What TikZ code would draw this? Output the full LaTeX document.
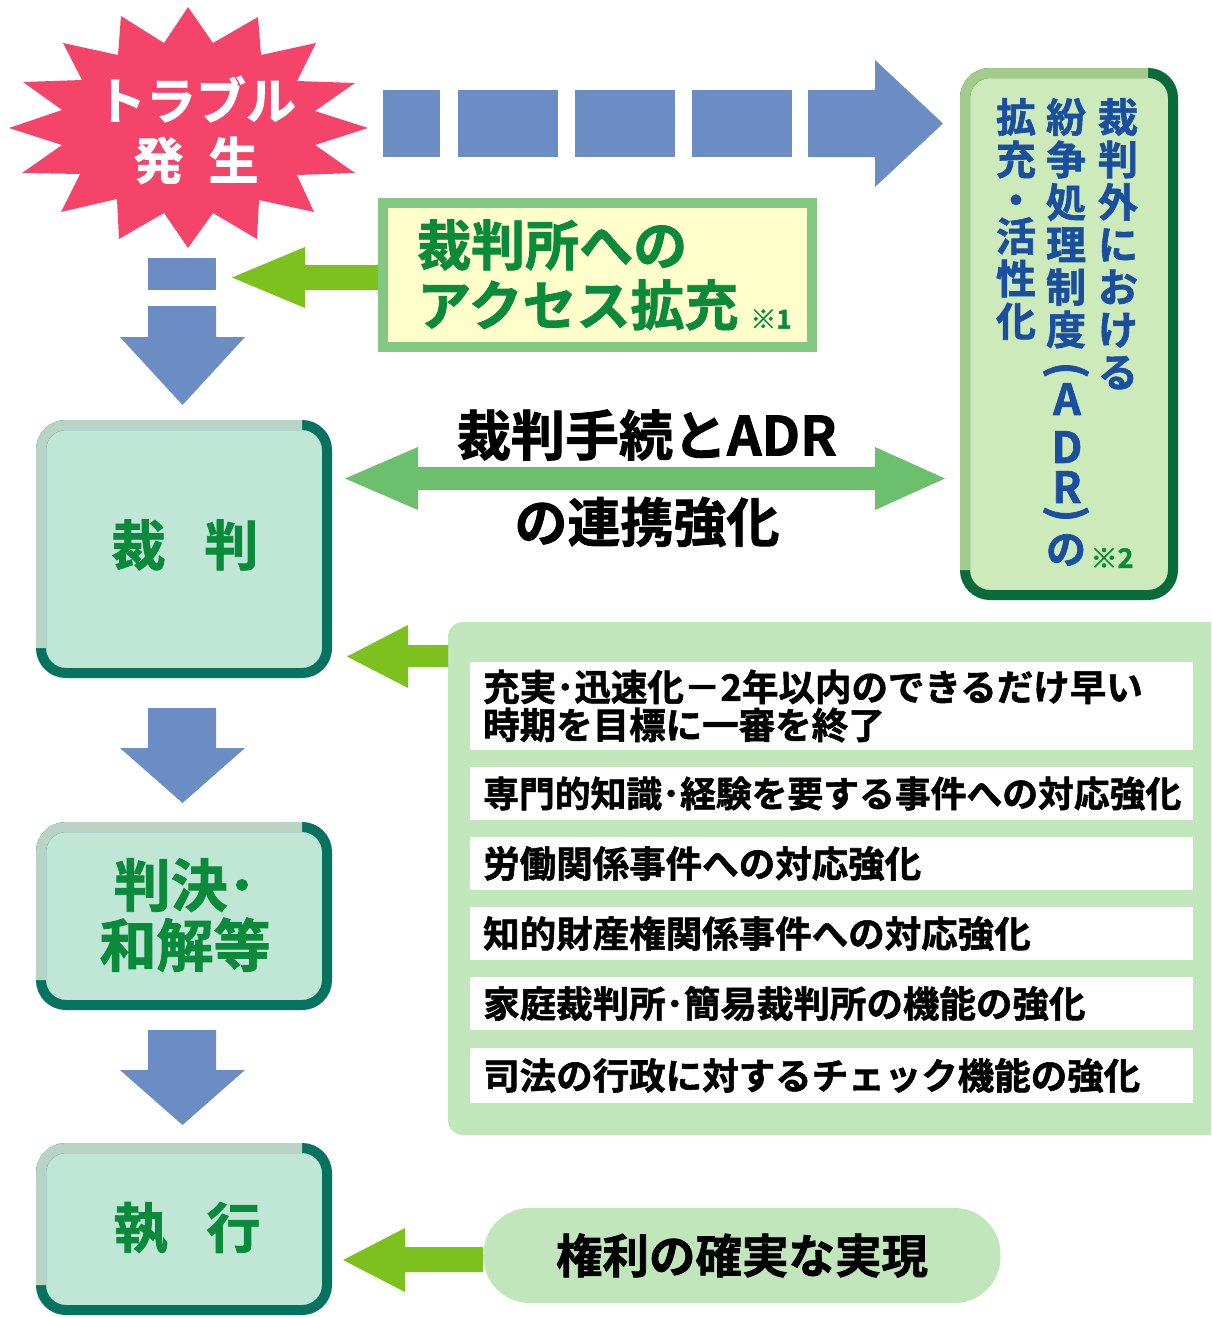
\documentclass[tikz,border=0pt]{standalone}
\usepackage{fontspec}
\setmainfont{Noto Sans CJK JP}[BoldFont={Noto Sans CJK JP Bold},BoldFeatures={FakeBold=1.5}]
\definecolor{cStar}{HTML}{F5446A}
\definecolor{cBlue}{HTML}{6B8DC3}
\definecolor{cYG}{HTML}{7DC11E}
\definecolor{cDG}{HTML}{6CBF6C}
\definecolor{cAdrFill}{HTML}{CDEABA}
\definecolor{cAdrLight}{HTML}{A3CC8C}
\definecolor{cAdrDark}{HTML}{0A6B3A}
\definecolor{cAdrText}{HTML}{1A4FA0}
\definecolor{cAccFill}{HTML}{FFFFCC}
\definecolor{cAccBorder}{HTML}{82C882}
\definecolor{cGreenText}{HTML}{0A8A3A}
\definecolor{cStageFill}{HTML}{C0E6D6}
\definecolor{cStageLight}{HTML}{B9D3C7}
\definecolor{cStageDark}{HTML}{077260}
\definecolor{cPanel}{HTML}{C1E6BB}
\newcommand\twotone[3]{%
  \draw[line width=10pt,#3,rounded corners=25pt]
    ([shift={(5pt,5pt)}]#1.south west) rectangle ([shift={(-5pt,-5pt)}]#1.north east);
  \draw[line width=10pt,#2,rounded corners=25pt]
    ([shift={(5pt,30pt)}]#1.south west) -- ([shift={(5pt,-5pt)}]#1.north west)
    -- ([shift={(-30pt,-5pt)}]#1.north east);
}
\tikzset{
  stagebox/.style={fill=cStageFill,rounded corners=30pt,inner sep=0pt,outer sep=0pt},
  stagetext/.style={text=cGreenText,align=center,inner sep=0pt,
    font=\bfseries\fontsize{54}{60}\selectfont},
  adrtext/.style={text=cAdrText,align=center,inner sep=0pt,
    font=\bfseries\fontsize{40}{42.5}\selectfont},
  rowbox/.style={fill=white,inner sep=0pt,outer sep=0pt,minimum width=723pt},
  rowtext/.style={anchor=west,inner sep=0pt,align=left,
    font=\bfseries\fontsize{36.5}{38}\selectfont},
  blockblue/.style={fill=cBlue},
  blockyg/.style={fill=cYG},
}
\begin{document}
\begin{tikzpicture}[x=1pt,y=-1pt]
\useasboundingbox (0,0) rectangle (1211,1317);
% starburst
\fill[cStar] (188,7) -- (213,43) -- (258,17) -- (261,55) -- (316,43) -- (297,81)
  -- (355,83) -- (315,111) -- (368,128) -- (315,145) -- (355,173) -- (297,175)
  -- (314,212) -- (259,200) -- (257,239) -- (213,213) -- (188,248) -- (164,213)
  -- (119,239) -- (117,199) -- (61,212) -- (80,174) -- (22,173) -- (62,145)
  -- (9,128) -- (62,110) -- (23,82) -- (82,80) -- (63,43) -- (118,55)
  -- (121,16) -- (164,43) -- cycle;
\node[text=white,align=center,inner sep=0pt,font=\bfseries\fontsize{50}{60}\selectfont]
  (trouble) at (196,130) {トラブル\\発\hspace{0.5em}生};
% blue dashed arrow to ADR
\fill[blockblue] (383,90) rectangle (440,157);
\fill[blockblue] (458,90) rectangle (558,157);
\fill[blockblue] (575,90) rectangle (675,157);
\fill[blockblue] (692,90) rectangle (792,157);
\fill[blockblue] (808,90) -- (875,90) -- (875,60) -- (943,123.5) -- (875,187)
  -- (875,157) -- (808,157) -- cycle;
% ADR box
\node[fill=cAdrFill,rounded corners=30pt,inner sep=0pt,outer sep=0pt,
  minimum width=218pt,minimum height=532pt] (adrbox) at (1069,334) {};
\twotone{adrbox}{cAdrLight}{cAdrDark}
\node[adrtext,anchor=north] (adr1) at (1118,98) {裁\\判\\外\\に\\お\\け\\る};
\node[adrtext,anchor=north] (adr2) at (1066,98) {紛\\争\\処\\理\\制\\度};
\node[adrtext,rotate=-90,font=\bfseries\fontsize{44}{44}\selectfont] (adrpl)
  at (1066,370) {(};
\node[adrtext,font=\bfseries\fontsize{43}{43}\selectfont] (adrA) at (1067,399) {A};
\node[adrtext,font=\bfseries\fontsize{43}{43}\selectfont] (adrD) at (1067,447) {D};
\node[adrtext,font=\bfseries\fontsize{43}{43}\selectfont] (adrR) at (1067,487) {R};
\node[adrtext,rotate=-90,font=\bfseries\fontsize{44}{44}\selectfont] (adrpr)
  at (1066,514) {)};
\node[adrtext] (adrno) at (1066,550) {の};
\node[adrtext,anchor=north] (adr3a) at (1016,98) {拡\\充};
\node[adrtext,anchor=base,text height=20pt,text depth=0pt] (adr3dot) at (1016,215) {・};
\node[adrtext,anchor=north] (adr3b) at (1016,217) {活\\性\\化};
\node[text=cGreenText,inner sep=0pt,font=\bfseries\fontsize{27}{28}\selectfont]
  (note2) at (1112,558) {※2};
% access box
\node[fill=cAccFill,draw=cAccBorder,line width=10pt,inner sep=0pt,outer sep=0pt,
  minimum width=429pt,minimum height=144pt] (access) at (597.5,275) {};
\node[text=cGreenText,anchor=west,align=left,inner sep=0pt,
  font=\bfseries\fontsize{54}{60}\selectfont] (accesstext) at (417,275)
  {裁判所への\\アクセス拡充};
\node[text=cGreenText,inner sep=0pt,font=\bfseries\fontsize{26}{28}\selectfont]
  (note1) at (771,319) {※1};
% green arrow access -> blue arrow
\fill[blockyg] (378,265) -- (305,265) -- (305,247) -- (232,277.5) -- (305,308)
  -- (305,290) -- (378,290) -- cycle;
% blue down arrows
\fill[blockblue] (148,258) rectangle (216,290);
\fill[blockblue] (148,306) -- (216,306) -- (216,337) -- (245,337) -- (182.5,405)
  -- (120,337) -- (148,337) -- cycle;
\fill[blockblue] (148,708) -- (216,708) -- (216,748) -- (245,748) -- (182.5,803)
  -- (120,748) -- (148,748) -- cycle;
\fill[blockblue] (148,1030) -- (216,1030) -- (216,1070) -- (245,1070) -- (182.5,1125)
  -- (120,1070) -- (148,1070) -- cycle;
% stage boxes
\node[stagebox,minimum width=296pt,minimum height=258pt] (saiban) at (184,549) {};
\twotone{saiban}{cStageLight}{cStageDark}
\node[stagetext] (saibantext) at (185,545) {裁\hspace{0.72em}判};
\node[stagebox,minimum width=296pt,minimum height=188pt] (hanketsu) at (184,916) {};
\twotone{hanketsu}{cStageLight}{cStageDark}
\node[stagetext,font=\bfseries\fontsize{57}{60}\selectfont]
  (hanketsutext) at (185,915) {判決･\\和解等};
\node[stagebox,minimum width=296pt,minimum height=172pt] (shikkou) at (184,1229) {};
\twotone{shikkou}{cStageLight}{cStageDark}
\node[stagetext] (shikkoutext) at (187,1228) {執\hspace{0.72em}行};
% double arrow
\fill[cDG] (345,478.5) -- (418,447) -- (418,467) -- (875,467) -- (875,447)
  -- (945,478.5) -- (875,510) -- (875,490) -- (418,490) -- (418,510) -- cycle;
\node[inner sep=0pt,font=\bfseries\fontsize{54}{60}\selectfont] (lbl1) at (647,435)
  {裁判手続とADR};
\node[inner sep=0pt,font=\bfseries\fontsize{53}{60}\selectfont] (lbl2) at (647,522)
  {の連携強化};
% panel
\begin{scope}
\clip (0,0) rectangle (1211,1317);
\fill[cPanel,rounded corners=15pt] (448,622) rectangle (1230,1135);
\end{scope}
\coordinate (panelwest) at (448,656);
\fill[blockyg] (panelwest) -- (448,645) -- (408,645) -- (408,625) -- (347,656.5)
  -- (408,688) -- (408,667) -- (448,667) -- cycle;
\node[rowbox,minimum height=88pt] (r1) at (831.5,706) {};
\node[rowbox,minimum height=53pt] (r2) at (831.5,793.5) {};
\node[rowbox,minimum height=53pt] (r3) at (831.5,863.5) {};
\node[rowbox,minimum height=53pt] (r4) at (831.5,933.5) {};
\node[rowbox,minimum height=53pt] (r5) at (831.5,1003.5) {};
\node[rowbox,minimum height=55pt] (r6) at (831.5,1075.5) {};
\node[rowtext] (t1) at (483,706) {充実･迅速化－2年以内のできるだけ早い\\時期を目標に一審を終了};
\node[rowtext,font=\bfseries\fontsize{35.8}{38}\selectfont] (t2) at (483,793.5)
  {専門的知識･経験を要する事件への対応強化};
\node[rowtext] (t3) at (483,863.5) {労働関係事件への対応強化};
\node[rowtext] (t4) at (483,933.5) {知的財産権関係事件への対応強化};
\node[rowtext] (t5) at (483,1003.5) {家庭裁判所･簡易裁判所の機能の強化};
\node[rowtext] (t6) at (483,1075.5) {司法の行政に対するチェック機能の強化};
% pill
\node[fill=cPanel,rounded corners=46pt,inner sep=0pt,minimum width=517pt,
  minimum height=95pt,font=\bfseries\fontsize{46.5}{50}\selectfont] (kenri)
  at (742,1255.5) {権利の確実な実現};
\fill[blockyg] (kenri.west) -- (483,1247) -- (405,1247) -- (405,1228) -- (343,1260)
  -- (405,1292) -- (405,1272) -- (483,1272) -- cycle;
\end{tikzpicture}
\end{document}
